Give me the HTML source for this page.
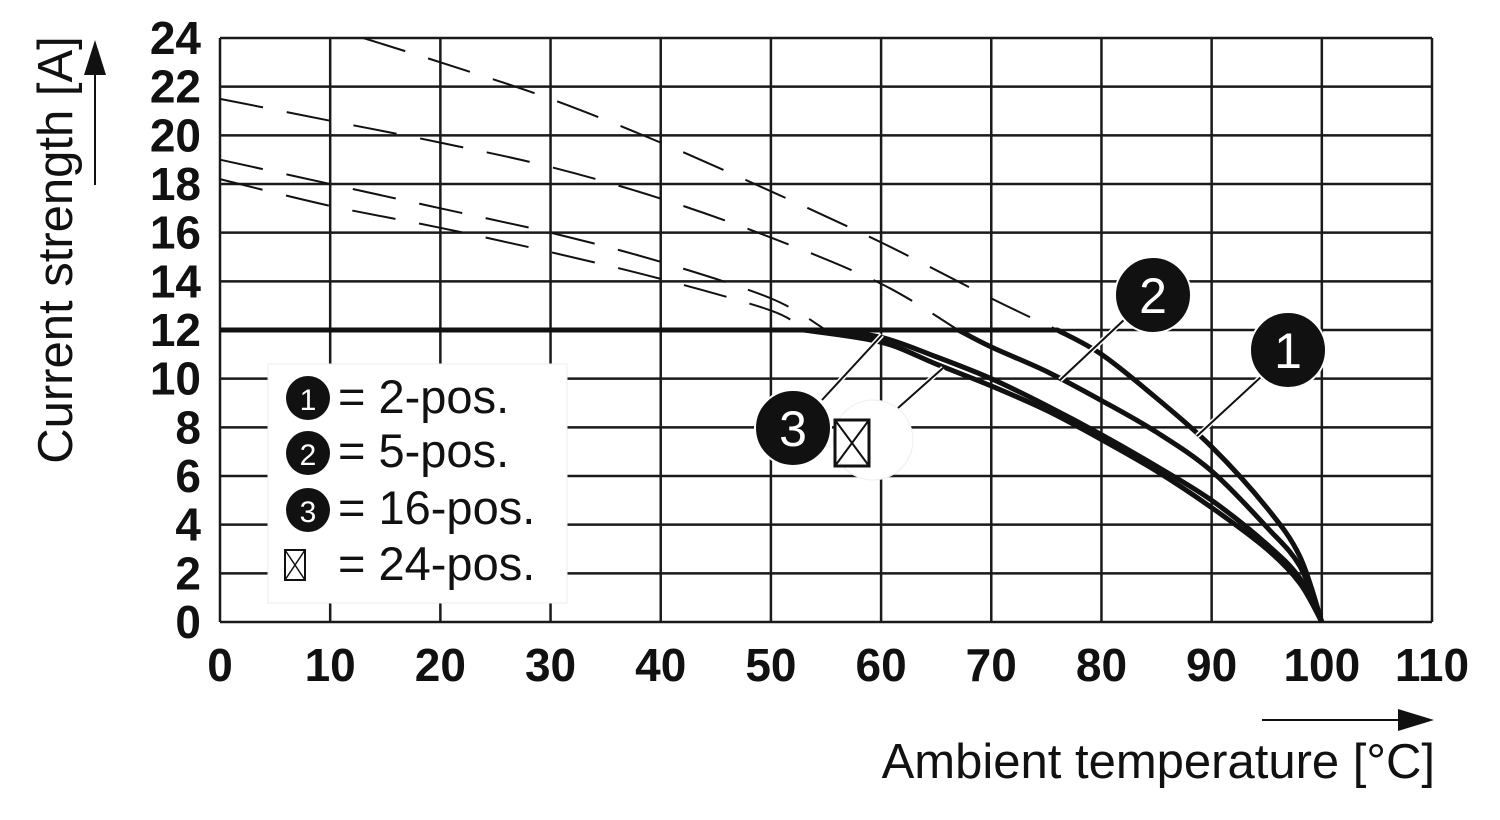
<!DOCTYPE html>
<html><head><meta charset="utf-8"><style>
html,body{margin:0;padding:0;background:#fff;}
svg{display:block;font-family:"Liberation Sans",Arial,sans-serif;}
</style></head><body>
<svg id="chart" width="1500" height="820" viewBox="0 0 1500 820">
  <g id="grid"></g>
  <g id="ticks"></g>
  <g id="series"></g>
  <g id="legend">
    <rect x="268" y="364" width="299" height="239" fill="#fff" stroke="#eee" stroke-width="1"/>
    <g>
      <circle cx="308" cy="398" r="22" fill="#111"/><text x="308" y="410" font-size="30" fill="#fff" text-anchor="middle">1</text>
      <text x="338" y="413" font-size="47" fill="#111">= 2-pos.</text></g>
    <g>
      <circle cx="308" cy="453" r="22" fill="#111"/><text x="308" y="465" font-size="30" fill="#fff" text-anchor="middle">2</text>
      <text x="338" y="467" font-size="47" fill="#111">= 5-pos.</text></g>
    <g>
      <circle cx="308" cy="510" r="22" fill="#111"/><text x="308" y="522" font-size="30" fill="#fff" text-anchor="middle">3</text>
      <text x="338" y="524" font-size="47" fill="#111">= 16-pos.</text></g>
    <g>
      <rect x="285" y="550" width="20" height="30" fill="none" stroke="#111" stroke-width="2"/>
      <path d="M285 550 L305 580 M305 550 L285 580" stroke="#111" stroke-width="1.5"/>
      <text x="338" y="580" font-size="47" fill="#111">= 24-pos.</text></g>
  </g>
  <g id="callouts">
    <g>
      <line x1="1126" y1="318" x2="1060" y2="380" stroke="#fff" stroke-width="5"/>
      <line x1="1126" y1="318" x2="1060" y2="380" stroke="#111" stroke-width="2"/>
      <circle cx="1153" cy="295" r="38" fill="#111" stroke="#fff" stroke-width="2"/>
      <text x="1153" y="313" font-size="50" fill="#fff" text-anchor="middle">2</text></g>
    <g>
      <line x1="1262" y1="376" x2="1197" y2="436" stroke="#fff" stroke-width="5"/>
      <line x1="1262" y1="376" x2="1197" y2="436" stroke="#111" stroke-width="2"/>
      <circle cx="1288" cy="350" r="38" fill="#111" stroke="#fff" stroke-width="2"/>
      <text x="1288" y="368" font-size="50" fill="#fff" text-anchor="middle">1</text></g>
    <g>
      <line x1="822" y1="400" x2="882" y2="335" stroke="#fff" stroke-width="5"/>
      <line x1="822" y1="400" x2="882" y2="335" stroke="#111" stroke-width="2"/>
      <circle cx="793" cy="428" r="38" fill="#111" stroke="#fff" stroke-width="2"/>
      <text x="793" y="446" font-size="50" fill="#fff" text-anchor="middle">3</text></g>
    <g>
      <line x1="898" y1="408" x2="943" y2="368" stroke="#fff" stroke-width="5"/>
      <line x1="898" y1="408" x2="943" y2="368" stroke="#111" stroke-width="2"/>
      <circle cx="873" cy="440" r="40" fill="#fff" stroke="#eee" stroke-width="1"/>
      <rect x="835" y="420" width="34" height="46" fill="none" stroke="#111" stroke-width="3"/>
      <path d="M835 420 L869 466 M869 420 L835 466" stroke="#111" stroke-width="2"/></g>
  </g>
  <g>
    <text transform="translate(72,250) rotate(-90)" font-size="49" fill="#111" text-anchor="middle">Current strength [A]</text>
    <line x1="95" y1="185" x2="95" y2="70" stroke="#111" stroke-width="2"/>
    <path d="M84 75 L95 40 L106 75 Z" fill="#111"/>
  </g>
  <g>
    <text x="1435" y="778" font-size="49" fill="#111" text-anchor="end">Ambient temperature [°C]</text>
    <line x1="1262" y1="720" x2="1400" y2="720" stroke="#111" stroke-width="2"/>
    <path d="M1398 709 L1434 720 L1398 731 Z" fill="#111"/>
  </g>
</svg>
<script>
const xTicks=[0,10,20,30,40,50,60,70,80,90,100,110];
const yTicks=[0,2,4,6,8,10,12,14,16,18,20,22,24];
// Solid derating curves (temperature °C, current A)
const t1=[0,76,80,85,90,95,98,100]; const i1=[12,12,11.0,9.2,7.2,4.7,2.7,0];
const t2=[0,67,70,75,80,85,90,95,98,100]; const i2=[12,12,11.3,10.3,9.1,7.8,6.2,3.9,2.3,0];
const t3=[0,55,60,65,70,75,80,85,90,95,98,100]; const i3=[12,12,11.7,10.9,10.0,8.9,7.7,6.4,5.0,3.2,1.8,0];
const t4=[0,53,60,65,70,75,80,85,90,95,98,100]; const i4=[12,12,11.5,10.6,9.7,8.7,7.5,6.2,4.7,3.0,1.6,0];
// Dashed extrapolation curves
const dt1=[13,20,30,40,50,60,70,76]; const di1=[24,23.0,21.5,19.7,17.7,15.6,13.3,12];
const dt2=[0,10,20,30,40,50,60,67]; const di2=[21.5,20.6,19.7,18.7,17.4,15.8,13.9,12];
const dt3=[0,10,20,30,40,50,55]; const di3=[19,18,17,16,14.8,13.3,12];
const dt4=[0,10,20,30,40,50,53]; const di4=[18.2,17.1,16.2,15.2,14.1,12.8,12];

const X0=220,X1=1432,Y0=622,Y1=38;
const sx=t=>X0+(t-0)*(X1-X0)/110;
const sy=v=>Y0-(v-0)*(Y0-Y1)/24;
const NS="http://www.w3.org/2000/svg";
function mk(tag,parent){const e=document.createElementNS(NS,tag);parent.appendChild(e);return e;}
const grid=document.getElementById('grid'),ticks=document.getElementById('ticks'),series=document.getElementById('series');
for(const t of xTicks){
  const l=mk('line',grid);
  
  
  l.setAttribute('x1',sx(t));l.setAttribute('x2',sx(t));l.setAttribute('y1',Y1);l.setAttribute('y2',Y0);
  l.setAttribute('stroke','#1a1a1a');l.setAttribute('stroke-width','2.5');
  const tx=mk('text',ticks);
  
  
  tx.setAttribute('x',sx(t));tx.setAttribute('y',681);tx.setAttribute('font-size','46');tx.setAttribute('font-weight','bold');
  tx.setAttribute('text-anchor','middle');tx.setAttribute('fill','#111');tx.textContent=t;
}
for(const v of yTicks){
  const l=mk('line',grid);
  
  
  l.setAttribute('x1',X0);l.setAttribute('x2',X1);l.setAttribute('y1',sy(v));l.setAttribute('y2',sy(v));
  l.setAttribute('stroke','#1a1a1a');l.setAttribute('stroke-width','2.5');
  const tx=mk('text',ticks);
  
  
  tx.setAttribute('x',201);tx.setAttribute('y',sy(v)+16);tx.setAttribute('font-size','46');tx.setAttribute('font-weight','bold');
  tx.setAttribute('text-anchor','end');tx.setAttribute('fill','#111');tx.textContent=v;
}
function path(ts,is,flatFirst){
  const p=ts.map((t,k)=>[sx(t),sy(is[k])]);
  let d='M'+p[0][0]+' '+p[0][1];
  let start=0;
  if(flatFirst){d+=' L'+p[1][0]+' '+p[1][1];start=1;}
  for(let k=start;k<p.length-1;k++){
    const b=p[k],c=p[k+1];
    const a=(k===start)?b:p[k-1];
    const e=p[k+2]||c;
    const c1=[b[0]+(c[0]-a[0])/6,b[1]+(c[1]-a[1])/6],c2=[c[0]-(e[0]-b[0])/6,c[1]-(e[1]-b[1])/6];
    d+=' C'+c1[0]+' '+c1[1]+' '+c2[0]+' '+c2[1]+' '+c[0]+' '+c[1];
  }
  return d;
}
const dashed=[[dt1,di1,'dashed-2-pos'],[dt2,di2,'dashed-5-pos'],[dt3,di3,'dashed-16-pos'],[dt4,di4,'dashed-24-pos']];
for(const [t,i,n] of dashed){
  const p=mk('path',series);
  
  
  p.setAttribute('d',path(t,i,false));p.setAttribute('fill','none');p.setAttribute('stroke','#111');
  p.setAttribute('stroke-width','2');p.setAttribute('stroke-dasharray','44 24');
}
const solid=[[t4,i4,'curve-24-pos'],[t3,i3,'curve-16-pos'],[t2,i2,'curve-5-pos'],[t1,i1,'curve-2-pos']];
for(const [t,i,n] of solid){
  const p=mk('path',series);
  
  
  p.setAttribute('d',path(t,i,true));p.setAttribute('fill','none');p.setAttribute('stroke','#111');
  p.setAttribute('stroke-width','5');p.setAttribute('stroke-linejoin','round');
}
</script>
</body></html>
